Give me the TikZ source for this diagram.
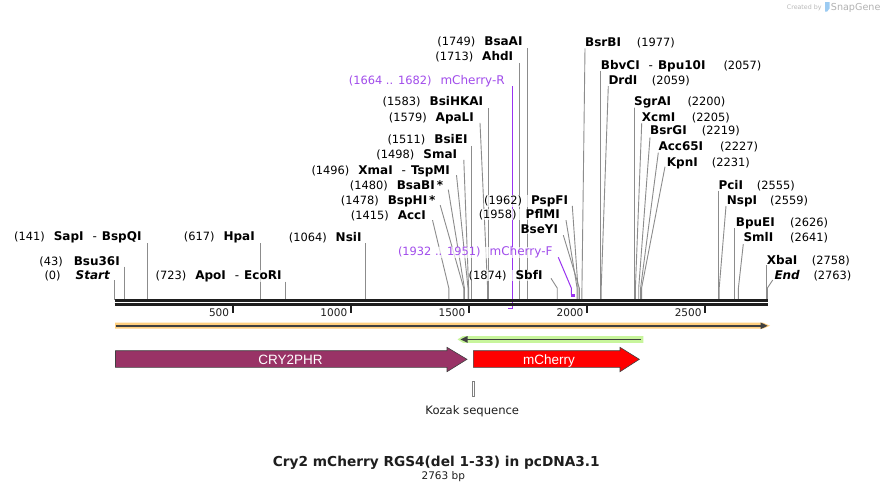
\documentclass[tikz,border=0pt]{standalone}
\usepackage{fontspec}
\setmainfont{DejaVu Sans}
\newfontfamily\featfont{Liberation Sans}
\usetikzlibrary{calc}
\pgfdeclarelayer{back}
\pgfdeclarelayer{bg}
\pgfsetlayers{back,bg,main}
\definecolor{bbone}{HTML}{1E1E1E}
\definecolor{cutgray}{HTML}{8C8C8C}
\definecolor{primer}{HTML}{9933F0}
\definecolor{primertxt}{HTML}{A14CEB}
\definecolor{orangebar}{HTML}{FFCF7F}
\definecolor{greenbar}{HTML}{C8F59C}
\definecolor{featline}{HTML}{404040}
\definecolor{cryfill}{HTML}{993366}
\definecolor{mchfill}{HTML}{FF0000}
\definecolor{logoblue}{HTML}{9CCBF2}
\newcommand\numf{\fontsize{11.4}{13}\selectfont\mdseries\upshape}
\newcommand\enzf{\fontsize{12}{13}\selectfont\bfseries}
\newcommand\prf{\fontsize{12}{13}\selectfont\mdseries}
\newcommand\dsh{\hspace{9pt}{\mdseries-}\hspace{5pt}}
\newcommand\lgap{\hspace{9pt}}
\begin{document}
\begin{tikzpicture}[x=1pt,y=-1pt,
  lblL/.style={anchor=base east, inner sep=0pt, fill=white, fill opacity=0.7, text opacity=1},
  lblR/.style={anchor=base west, inner sep=0pt, fill=white, fill opacity=0.7, text opacity=1},
  cut/.style={draw=cutgray, line width=0.9pt},
  plin/.style={draw=primer, line width=1pt},
  tickm/.style={draw=bbone, line width=1.8pt},
  ticklbl/.style={anchor=base east, inner sep=0pt, font=\fontsize{10.5}{12}\selectfont, text=bbone},
  featarrow/.style={draw=featline, line width=0.6pt},
  feattxt/.style={anchor=base, inner sep=0pt, text=white, font=\featfont\fontsize{13.5}{15}\selectfont}
]
\begin{pgfonlayer}{back}
\fill[white] (0,0) rectangle (884,491);
\end{pgfonlayer}
\useasboundingbox (0,0) rectangle (884,491);

% cut-site coordinates on the backbone
\coordinate (knee) at (0,288);
\coordinate (sStart) at (114.8,299.5);
\coordinate (sBsu) at (124.8,299.5);
\coordinate (sSapI) at (147.9,299.5);
\coordinate (sHpaI) at (260.3,299.5);
\coordinate (sApoI) at (285.4,299.5);
\coordinate (sNsiI) at (365.9,299.5);
\coordinate (sAccI) at (448.8,299.5);
\coordinate (sBspHI) at (463.7,299.5);
\coordinate (sBsaBI) at (464.4,299.5);
\coordinate (sXmaI) at (468.0,299.5);
\coordinate (sSmaI) at (468.6,299.5);
\coordinate (sBsiEI) at (471.5,299.5);
\coordinate (sApaLI) at (487.6,299.5);
\coordinate (sBsiHKAI) at (488.7,299.5);
\coordinate (sAhdI) at (519.2,299.5);
\coordinate (sBsaAI) at (527.7,299.5);
\coordinate (sSbfI) at (557.2,299.5);
\coordinate (sPflMI) at (577.1,299.5);
\coordinate (sPspFI) at (578.0,299.5);
\coordinate (sBseYI) at (579.3,299.5);
\coordinate (sBsrBI) at (581.8,299.5);
\coordinate (sBbvCI) at (600.5,299.5);
\coordinate (sDrdI) at (601.2,299.5);
\coordinate (sSgrAI) at (634.2,299.5);
\coordinate (sXcmI) at (635.4,299.5);
\coordinate (sBsrGI) at (638.7,299.5);
\coordinate (sAcc65I) at (640.6,299.5);
\coordinate (sKpnI) at (641.6,299.5);
\coordinate (sPciI) at (718.1,299.5);
\coordinate (sNspI) at (719.2,299.5);
\coordinate (sBpuEI) at (734.9,299.5);
\coordinate (sSmlI) at (738.4,299.5);
\coordinate (sXbaI) at (766.0,299.5);
\coordinate (sEnd) at (767.4,299.5);
\coordinate (pR) at (512.0,308.5);
\coordinate (pF) at (571.3,294.6);

% labels, left side
\node[lblL] (lStart) at (110,279.1) {\numf(0)\hspace{15pt}\enzf\itshape Start};
\node[lblL] (lBsu) at (120,265.1) {\numf(43)\hspace{11pt}\enzf Bsu36I};
\node[lblL] (lSapI) at (141.7,240.1) {\numf(141)\lgap\enzf SapI\dsh BspQI};
\node[lblL] (lHpaI) at (255,240.1) {\numf(617)\lgap\enzf HpaI};
\node[lblL] (lApoI) at (281.7,279.1) {\numf(723)\lgap\enzf ApoI\dsh EcoRI};
\node[lblL] (lNsiI) at (361.7,241.1) {\numf(1064)\lgap\enzf NsiI};
\node[lblL] (lAccI) at (426,219.1) {\numf(1415)\lgap\enzf AccI};
\node[lblL] (lBspHI) at (435.7,204.1) {\numf(1478)\lgap\enzf BspHI\,*};
\node[lblL] (lBsaBI) at (443.3,189.1) {\numf(1480)\lgap\enzf BsaBI\,*};
\node[lblL] (lXmaI) at (450,174.1) {\numf(1496)\lgap\enzf XmaI\dsh TspMI};
\node[lblL] (lSmaI) at (457.3,158.1) {\numf(1498)\lgap\enzf SmaI};
\node[lblL] (lBsiEI) at (467.7,143.4) {\numf(1511)\lgap\enzf BsiEI};
\node[lblL] (lApaLI) at (474,121.4) {\numf(1579)\lgap\enzf ApaLI};
\node[lblL] (lBsiHKAI) at (483.3,105.8) {\numf(1583)\lgap\enzf BsiHKAI};
\node[lblL, text=primertxt] (lmchR) at (505,84.1) {\numf(1664 .. 1682)\lgap\prf mCherry-R};
\node[lblL] (lAhdI) at (513.3,60.8) {\numf(1713)\lgap\enzf AhdI};
\node[lblL] (lBsaAI) at (522.7,45.8) {\numf(1749)\lgap\enzf BsaAI};
\node[lblL] (lSbfI) at (542.7,279.1) {\numf(1874)\lgap\enzf SbfI};
\node[lblL, text=primertxt] (lmchF) at (552.7,255.8) {\numf(1932 .. 1951)\lgap\prf mCherry-F};
\node[lblL] (lBseYI) at (558.3,233.4) {\enzf BseYI};
\node[lblL] (lPflMI) at (560,218.4) {\numf(1958)\lgap\enzf PflMI};
\node[lblL] (lPspFI) at (568.3,204.1) {\numf(1962)\lgap\enzf PspFI};

% labels, right side
\node[lblR] (lBsrBI) at (585,46.8) {\enzf BsrBI};
\node[lblR] (nBsrBI) at (636.7,46.8) {\numf(1977)};
\node[lblR] (lBbvCI) at (600.7,69.1) {\enzf BbvCI\dsh Bpu10I};
\node[lblR] (nBbvCI) at (723.3,69.1) {\numf(2057)};
\node[lblR] (lDrdI) at (608.3,84.8) {\enzf DrdI};
\node[lblR] (nDrdI) at (651.7,84.8) {\numf(2059)};
\node[lblR] (lSgrAI) at (634,105.8) {\enzf SgrAI};
\node[lblR] (nSgrAI) at (687.3,105.8) {\numf(2200)};
\node[lblR] (lXcmI) at (641.7,121.4) {\enzf XcmI};
\node[lblR] (nXcmI) at (691.7,121.4) {\numf(2205)};
\node[lblR] (lBsrGI) at (650,134.8) {\enzf BsrGI};
\node[lblR] (nBsrGI) at (701.7,134.8) {\numf(2219)};
\node[lblR] (lAcc65I) at (658.3,150.8) {\enzf Acc65I};
\node[lblR] (nAcc65I) at (720,150.8) {\numf(2227)};
\node[lblR] (lKpnI) at (666.7,166.4) {\enzf KpnI};
\node[lblR] (nKpnI) at (711.7,166.4) {\numf(2231)};
\node[lblR] (lPciI) at (718.3,189.1) {\enzf PciI};
\node[lblR] (nPciI) at (756.7,189.1) {\numf(2555)};
\node[lblR] (lNspI) at (726.7,204.8) {\enzf NspI};
\node[lblR] (nNspI) at (770,204.8) {\numf(2559)};
\node[lblR] (lBpuEI) at (735.7,226.4) {\enzf BpuEI};
\node[lblR] (nBpuEI) at (790,226.4) {\numf(2626)};
\node[lblR] (lSmlI) at (743.3,241.8) {\enzf SmlI};
\node[lblR] (nSmlI) at (790,241.8) {\numf(2641)};
\node[lblR] (lXbaI) at (766.7,264.1) {\enzf XbaI};
\node[lblR] (nXbaI) at (811.7,264.1) {\numf(2758)};
\node[lblR] (lEnd) at (774.3,279.1) {\enzf\itshape End};
\node[lblR] (nEnd) at (813.3,279.1) {\numf(2763)};

% connectors (behind the labels)
\begin{pgfonlayer}{bg}
\draw[cut] (sStart |- lStart.base) ++(0,1) -- (sStart);
\draw[cut] (sBsu |- lBsu.base) ++(0,1.6) -- (sBsu);
\draw[cut] (sSapI |- lSapI.base) ++(0,3) -- (sSapI);
\draw[cut] (sHpaI |- lHpaI.base) ++(0,3) -- (sHpaI);
\draw[cut] (sApoI |- lApoI.base) ++(0,2.5) -- (sApoI);
\draw[cut] (sNsiI |- lNsiI.base) ++(0,2.2) -- (sNsiI);
\draw[cut] (lAccI.base east) ++(6.5,1) -- (sAccI |- knee) -- (sAccI);
\draw[cut] (lBspHI.base east) ++(4.5,1) -- (sBspHI |- knee) -- (sBspHI);
\draw[cut] (lBsaBI.base east) ++(5,0.5) -- (sBsaBI |- knee) -- (sBsaBI);
\draw[cut] (lXmaI.base east) ++(6.5,1) -- (sXmaI |- knee) -- (sXmaI);
\draw[cut] (lSmaI.base east) ++(6.5,1.8) -- (sSmaI |- knee) -- (sSmaI);
\draw[cut] (sBsiEI |- lBsiEI.base) ++(0,2.5) -- (sBsiEI);
\draw[cut] (lApaLI.base east) ++(6,1.5) -- (sApaLI |- knee) -- (sApaLI);
\draw[cut] (sBsiHKAI |- lBsiHKAI.base) ++(0,2.5) -- (sBsiHKAI);
\draw[cut] (sAhdI |- lAhdI.base) ++(0,2) -- (sAhdI);
\draw[cut] (sBsaAI |- lBsaAI.base) ++(0,2.5) -- (sBsaAI);
\draw[cut] (lSbfI.base east) ++(8.3,-0.8) -- (sSbfI |- knee) -- (sSbfI);
\draw[cut] (lBseYI.base east) ++(5,1.8) -- (sBseYI |- knee) -- (sBseYI);
\draw[cut] (lPflMI.base east) ++(6,1.8) -- (sPflMI |- knee) -- (sPflMI);
\draw[cut] (lPspFI.base east) ++(4,1.8) -- (sPspFI |- knee) -- (sPspFI);
\draw[cut] (lBsrBI.base west) ++(0,1.5) -- (sBsrBI);
\draw[cut] (sBbvCI |- lBbvCI.base) ++(0,1.6) -- (sBbvCI);
\draw[cut] (lDrdI.base west) ++(0,1.2) -- (sDrdI |- knee) -- (sDrdI);
\draw[cut] (sSgrAI |- lSgrAI.base) ++(0,1.5) -- (sSgrAI);
\draw[cut] (lXcmI.base west) ++(0,1.9) -- (sXcmI |- knee) -- (sXcmI);
\draw[cut] (lBsrGI.base west) ++(0,2.5) -- (sBsrGI |- knee) -- (sBsrGI);
\draw[cut] (lAcc65I.base west) ++(0,1.9) -- (sAcc65I |- knee) -- (sAcc65I);
\draw[cut] (lKpnI.base west) ++(-1.7,0.3) -- (sKpnI |- knee) -- (sKpnI);
\draw[cut] (sPciI |- lPciI.base) ++(0,1.6) -- (sPciI);
\draw[cut] (lNspI.base west) ++(-0.7,1.2) -- (sNspI |- knee) -- (sNspI);
\draw[cut] (sBpuEI |- lBpuEI.base) ++(0,1.9) -- (sBpuEI);
\draw[cut] (lSmlI.base west) ++(0,2.2) -- (sSmlI |- knee) -- (sSmlI);
\draw[cut] (sXbaI |- lXbaI.base) ++(0,0.9) -- (sXbaI);
\draw[cut] (lEnd.base west) ++(-1.6,0.9) -- (sEnd |- knee) -- (sEnd);
% primer connectors
\draw[plin] (pR |- lmchR.base) ++(0,2) -- (pR);
\draw[plin] (lmchF.base east) ++(5.6,1.5) -- (pF |- knee) -- (pF);
\end{pgfonlayer}

% primer bars
\fill[primer] (507.8,307.6) rectangle (512.5,309.4);
\fill[primer] (570.8,294.3) rectangle (575.4,296.8);

% backbone
\draw[bbone, line width=2.7pt] (114.6,300.3) -- (768.3,300.3);
\draw[bbone, line width=2.7pt] (114.6,304.3) -- (768.3,304.3);

% ticks
\foreach \p/\x in {500/232.7,1000/350.8,1500/468.9,2000/587,2500/705.1} {
  \draw[tickm] (\x,305.5) -- (\x,312.5);
  \node[ticklbl] (tk\p) at (\x-3.4,316) {\p};
}

% orange full-length feature
\fill[orangebar] (115,322.7) -- (763,322.7) -- (770,325.7) -- (763,328.7) -- (115,328.7) -- cycle;
\draw[featline, line width=1.7pt] (115.5,325.8) -- (762,325.8);
\fill[featline] (760.5,322.4) -- (767.5,325.8) -- (760.5,329.2) -- cycle;

% green reverse feature
\fill[greenbar] (643.3,336) -- (463,336) -- (457.5,339.4) -- (463,342.8) -- (643.3,342.8) -- cycle;
\draw[featline, line width=1.7pt] (641,339.4) -- (466,339.4);
\fill[featline] (467.5,336) -- (460.5,339.4) -- (467.5,342.8) -- cycle;

% CRY2PHR and mCherry
\filldraw[featarrow, fill=cryfill] (115.5,350.7) -- (447,350.7) -- (447,347.3) -- (467,359.3) -- (447,371.7) -- (447,367.3) -- (115.5,367.3) -- cycle;
\node[feattxt] (cry) at (290.5,364.1) {CRY2PHR};
\filldraw[featarrow, fill=mchfill] (473.3,350.7) -- (620,350.7) -- (620,347.3) -- (639.3,359.3) -- (620,371.7) -- (620,367.3) -- (473.3,367.3) -- cycle;
\node[feattxt] (mch) at (549,364.1) {mCherry};

% Kozak
\node[draw=gray, fill=white, line width=0.7pt, minimum width=2.5pt, minimum height=15pt, inner sep=0pt] (kozakbox) at (473.15,388.5) {};
\node[anchor=base, inner sep=0pt, font=\fontsize{11.6}{13}\selectfont, text=bbone] (kozak) at (472.3,414.2) {Kozak sequence};

% title
\node[anchor=base, inner sep=0pt, font=\fontsize{13.7}{16}\selectfont\bfseries, text=bbone] (title) at (436.3,466.6) {Cry2 mCherry RGS4(del 1-33) in pcDNA3.1};
\node[anchor=base, inner sep=0pt, font=\fontsize{10.5}{12}\selectfont, text=bbone] (bp) at (443.3,479.5) {2763 bp};

% watermark
\node[anchor=base west, inner sep=0pt, text=gray!55, font=\fontsize{6.3}{7}\selectfont] (cby) at (786.7,9.1) {Created by};
\fill[logoblue] (825,2) -- (829.5,2) -- (829.5,8.5) -- (827,11.7) -- (825,11.7) -- cycle;
\node[anchor=base west, inner sep=0pt, text=gray!60, font=\fontsize{9.6}{11}\selectfont] (sg) at (830.7,10.2) {SnapGene};
\end{tikzpicture}
\end{document}
